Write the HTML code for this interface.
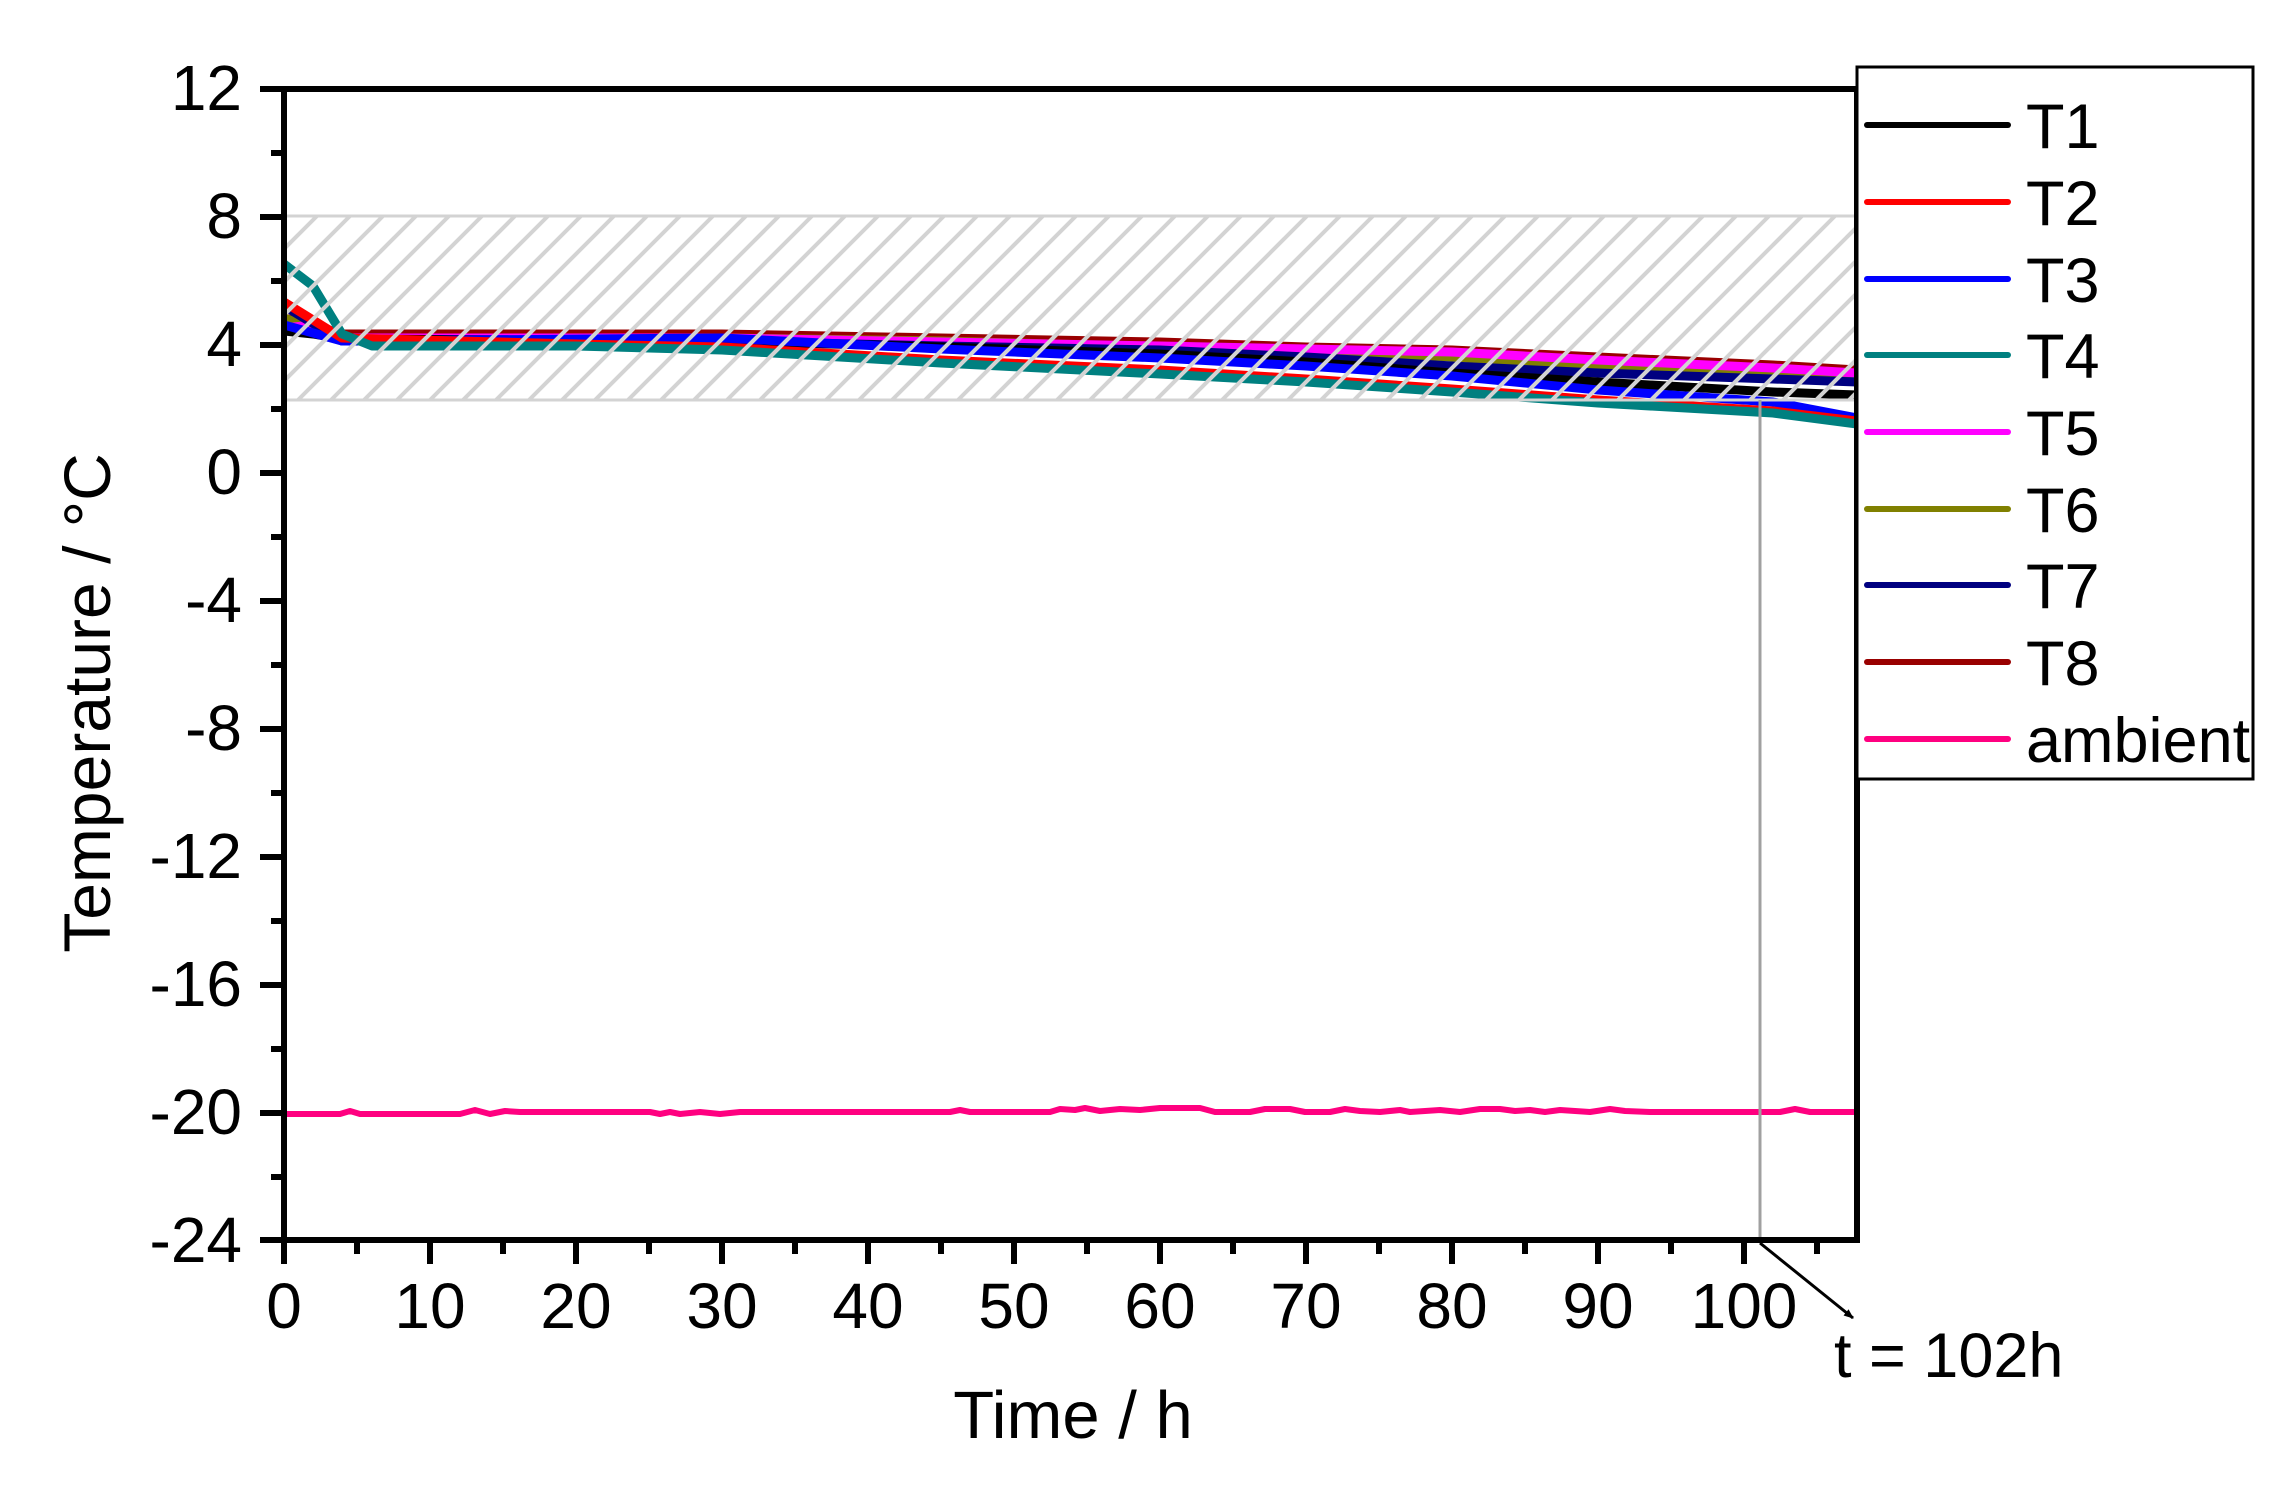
<!DOCTYPE html>
<html><head><meta charset="utf-8"><style>
html,body{margin:0;padding:0;background:#fff;}
svg{display:block;font-family:"Liberation Sans",Arial,sans-serif;}
</style></head><body>
<svg width="2296" height="1493" viewBox="0 0 2296 1493" xmlns="http://www.w3.org/2000/svg">
<defs>
<clipPath id="pc"><rect x="284" y="89" width="1573" height="1151"/></clipPath>
<clipPath id="hc"><rect x="286" y="216" width="1571" height="184"/></clipPath>
<marker id="ah" markerWidth="10" markerHeight="8" refX="9" refY="4" orient="auto" markerUnits="userSpaceOnUse" viewBox="0 0 10 8"><path d="M0,0 L10,4 L0,8 Z" fill="#000"/></marker>
</defs>
<rect width="2296" height="1493" fill="#fff"/>
<g clip-path="url(#pc)" fill="none" stroke-width="9" stroke-linejoin="round">
<polyline stroke="#990000" points="284,318 313,325 342,334 722,334 941,338 1160,342 1306,347 1452,350 1598,357 1773,365 1857,370"/>
<polyline stroke="#808000" points="284,318 342,338 722,338 941,341 1160,347 1306,350 1452,357 1598,366 1671,371 1773,376 1857,379"/>
<polyline stroke="#ff00ff" points="284,328 313,325 342,338 722,338 1160,346 1452,352 1598,360 1773,368 1857,373"/>
<polyline stroke="#000080" points="284,306 342,341 722,341 941,346 1160,350 1306,357 1452,366 1598,373 1773,379 1857,382"/>
<polyline stroke="#000000" points="284,331 313,334 342,339 722,341 941,347 1160,354 1306,362 1452,373 1598,382 1773,392 1857,395"/>
<polyline stroke="#0000ff" points="284,325 342,341 722,338 941,349 1160,358 1306,366 1452,376 1598,390 1773,402 1857,418"/>
<polyline stroke="#ff0000" points="284,302 342,338 576,344 722,347 941,360 1160,370 1306,379 1452,389 1598,400 1773,411 1857,421"/>
<polyline stroke="#008080" points="284,264 313,286 342,334 372,346 576,346 722,350 941,363 1160,374 1306,382 1452,392 1598,403 1773,413 1857,424"/>
<polyline stroke="#ff0080" stroke-width="6" points="284,1114 340,1114 350,1111 360,1114 460,1114 475,1110 490,1114 505,1111 520,1112 560,1112 650,1112 660,1114 670,1112 680,1114 700,1112 720,1114 740,1112 950,1112 960,1110 970,1112 1050,1112 1060,1109 1075,1110 1085,1108 1100,1111 1120,1109 1140,1110 1160,1108 1200,1108 1215,1112 1250,1112 1265,1109 1290,1109 1305,1112 1330,1112 1345,1109 1360,1111 1380,1112 1400,1110 1410,1112 1440,1110 1460,1112 1480,1109 1500,1109 1515,1111 1530,1110 1545,1112 1560,1110 1590,1112 1610,1109 1625,1111 1650,1112 1680,1112 1700,1112 1780,1112 1795,1109 1810,1112 1857,1112"/>
</g>
<g clip-path="url(#hc)" stroke="#d3d3d3" stroke-width="4">
<g id="hl">
<line x1="100" y1="400" x2="284" y2="216"/><line x1="133" y1="400" x2="317" y2="216"/><line x1="166" y1="400" x2="350" y2="216"/><line x1="199" y1="400" x2="383" y2="216"/><line x1="232" y1="400" x2="416" y2="216"/><line x1="265" y1="400" x2="449" y2="216"/><line x1="298" y1="400" x2="482" y2="216"/><line x1="331" y1="400" x2="515" y2="216"/><line x1="364" y1="400" x2="548" y2="216"/><line x1="397" y1="400" x2="581" y2="216"/><line x1="430" y1="400" x2="614" y2="216"/><line x1="463" y1="400" x2="647" y2="216"/><line x1="496" y1="400" x2="680" y2="216"/><line x1="529" y1="400" x2="713" y2="216"/><line x1="562" y1="400" x2="746" y2="216"/><line x1="595" y1="400" x2="779" y2="216"/>
</g>
<use href="#hl" x="528"/><use href="#hl" x="1056"/><use href="#hl" x="1584"/>
</g>
<rect x="285.5" y="216" width="1572" height="184" fill="none" stroke="#d3d3d3" stroke-width="3"/>
<line x1="1760" y1="400" x2="1760" y2="1243" stroke="#a0a0a0" stroke-width="3"/>
<line x1="1760" y1="1243" x2="1853" y2="1318" stroke="#000" stroke-width="3" marker-end="url(#ah)"/>
<g stroke="#000" stroke-width="6" fill="none">
<rect x="284" y="89" width="1573" height="1151"/>
<path d="M260,89H284M260,217H284M260,345H284M260,473H284M260,601H284M260,729H284M260,857H284M260,985H284M260,1113H284M260,1240H284"/>
<path d="M271,153H284M271,281H284M271,409H284M271,537H284M271,665H284M271,793H284M271,921H284M271,1049H284M271,1177H284"/>
<path d="M284,1240V1264M430,1240V1264M576,1240V1264M722,1240V1264M868,1240V1264M1014,1240V1264M1160,1240V1264M1306,1240V1264M1452,1240V1264M1598,1240V1264M1744,1240V1264"/>
<path d="M357,1240V1254M503,1240V1254M649,1240V1254M795,1240V1254M941,1240V1254M1087,1240V1254M1233,1240V1254M1379,1240V1254M1525,1240V1254M1671,1240V1254M1817,1240V1254"/>
</g>
<g font-size="64" fill="#000" text-anchor="end">
<text x="242" y="110">12</text>
<text x="242" y="238">8</text>
<text x="242" y="366">4</text>
<text x="242" y="494">0</text>
<text x="242" y="622">-4</text>
<text x="242" y="750">-8</text>
<text x="242" y="878">-12</text>
<text x="242" y="1006">-16</text>
<text x="242" y="1134">-20</text>
<text x="242" y="1262">-24</text>
</g>
<g font-size="64" fill="#000" text-anchor="middle">
<text x="284" y="1328">0</text>
<text x="430" y="1328">10</text>
<text x="576" y="1328">20</text>
<text x="722" y="1328">30</text>
<text x="868" y="1328">40</text>
<text x="1014" y="1328">50</text>
<text x="1160" y="1328">60</text>
<text x="1306" y="1328">70</text>
<text x="1452" y="1328">80</text>
<text x="1598" y="1328">90</text>
<text x="1744" y="1328">100</text>
<text x="1073" y="1438" font-size="67">Time / h</text>
<text transform="translate(110,703) rotate(-90)" font-size="66">Temperature / °C</text>
</g>
<text x="1834" y="1377" font-size="63" fill="#000">t = 102h</text>
<rect x="1857" y="67" width="396" height="712" fill="#fff" stroke="#000" stroke-width="3"/>
<g stroke-width="6" stroke-linecap="round">
<line x1="1867" y1="125" x2="2008" y2="125" stroke="#000"/>
<line x1="1867" y1="202" x2="2008" y2="202" stroke="#ff0000"/>
<line x1="1867" y1="279" x2="2008" y2="279" stroke="#0000ff"/>
<line x1="1867" y1="355" x2="2008" y2="355" stroke="#008080"/>
<line x1="1867" y1="432" x2="2008" y2="432" stroke="#ff00ff"/>
<line x1="1867" y1="509" x2="2008" y2="509" stroke="#808000"/>
<line x1="1867" y1="585" x2="2008" y2="585" stroke="#000080"/>
<line x1="1867" y1="662" x2="2008" y2="662" stroke="#990000"/>
<line x1="1867" y1="739" x2="2008" y2="739" stroke="#ff0080"/>
</g>
<g font-size="63" fill="#000">
<text x="2026" y="148">T1</text>
<text x="2026" y="225">T2</text>
<text x="2026" y="302">T3</text>
<text x="2026" y="378">T4</text>
<text x="2026" y="455">T5</text>
<text x="2026" y="532">T6</text>
<text x="2026" y="608">T7</text>
<text x="2026" y="685">T8</text>
<text x="2026" y="762">ambient</text>
</g>
</svg>
</body></html>
